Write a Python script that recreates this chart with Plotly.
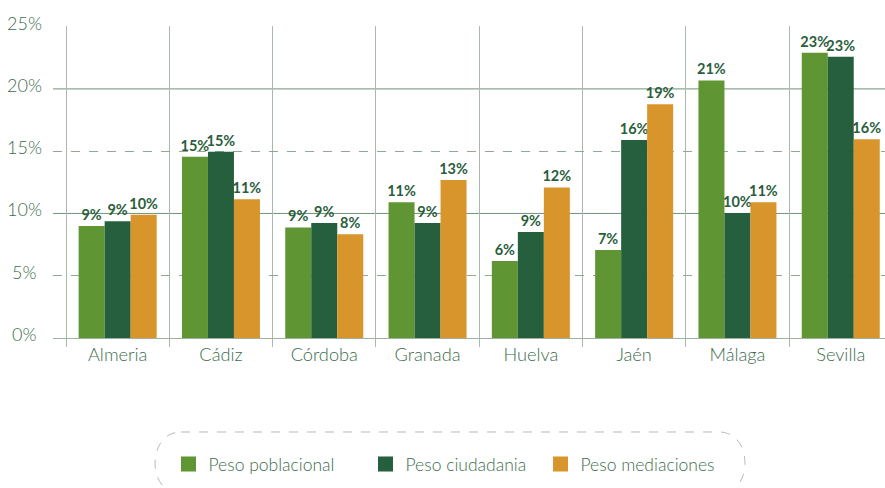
import plotly.graph_objects as go

categories = ["Almeria", "Cádiz", "Córdoba", "Granada", "Huelva", "Jaén", "Málaga", "Sevilla"]
peso_poblacional = [9.0, 14.55, 8.88, 10.89, 6.18, 7.06, 20.68, 22.9]
peso_ciudadania = [9.37, 14.95, 9.23, 9.23, 8.52, 15.9, 10.03, 22.58]
peso_mediaciones = [9.9, 11.13, 8.32, 12.68, 12.09, 18.76, 10.9, 15.95]
series_names = ["Peso poblacional", "Peso ciudadania", "Peso mediaciones"]
series_colors = ["#5f9532", "#255f3d", "#d7952b"]
y_tick_values = [0, 5, 10, 15, 20, 25]
y_tick_labels = ["0%", "5%", "10%", "15%", "20%", "25%"]

W, H = 885, 488
ML, MR, MT, MB = 53, 0, 26, 150
PW = W - ML - MR
PH = H - MT - MB

LABEL_COLOR = "#3c6d4d"
TEXT_COLOR = "#2a5e3c"
FONT = "Lato"

def px_to_paper_x(px):
    return (px - ML) / PW

def py_to_paper_y(py):
    return (H - MB - py) / PH

fig = go.Figure()
legend_ids = ["legend", "legend2", "legend3"]
legend_square_centers = [188.5, 385.5, 560.5]
for name, vals, col in zip(series_names, [peso_poblacional, peso_ciudadania, peso_mediaciones], series_colors):
    fig.add_trace(go.Bar(
        name=name, x=categories, y=vals, marker=dict(color=col, line=dict(width=0)),
        text=[f"{round(v)}%" for v in vals], textposition="outside",
        textfont=dict(family=FONT, size=14.5, color=TEXT_COLOR, weight="bold"),
        constraintext="none", cliponaxis=False, showlegend=False,
    ))
# legend entries (square swatches)
for name, col, lid in zip(series_names, series_colors, legend_ids):
    fig.add_trace(go.Scatter(
        name=name, x=[None], y=[None], mode="markers", legend=lid,
        marker=dict(symbol="square", size=15, color=col, line=dict(width=0)),
        showlegend=True, hoverinfo="skip",
    ))

cat_w = 103.3
left = -0.5 - (66 - ML) / cat_w
right = -0.5 + (W - MR - 66) / cat_w

shapes = []
for yv in [10, 20]:
    shapes.append(dict(type="line", xref="paper", yref="y", x0=0, x1=1, y0=yv, y1=yv,
                       line=dict(color="#6f9376", width=1), layer="below"))

# dashed rounded legend box
L, R, T, B, r = 155, 745, 432, 494, 26
k = 4 * r / 3
pts = lambda x, y: f"{px_to_paper_x(x):.5f},{py_to_paper_y(y):.5f}"
path = (f"M {pts(L + r, T)} L {pts(R - r, T)} "
        f"C {pts(R - r + k, T)} {pts(R - r + k, B)} {pts(R - r, B)} "
        f"L {pts(L + r, B)} "
        f"C {pts(L + r - k, B)} {pts(L + r - k, T)} {pts(L + r, T)} Z")
shapes.append(dict(type="path", xref="paper", yref="paper", path=path,
                   line=dict(color="#b3bdb4", width=1, dash="dash"), layer="below"))

annotations = []
for v, t in zip(y_tick_values, y_tick_labels):
    annotations.append(dict(xref="paper", yref="y", x=px_to_paper_x(24.5), y=v, text=t,
                            showarrow=False, xanchor="center", yanchor="middle", yshift=4,
                            font=dict(family=FONT, size=18, color=LABEL_COLOR, weight=300)))

legend_font = dict(family=FONT, size=17.5, color=LABEL_COLOR, weight=300)
legends = {}
for lid, cx in zip(legend_ids, legend_square_centers):
    legends[lid] = dict(orientation="h", x=px_to_paper_x(cx - 20), xanchor="left",
                        y=py_to_paper_y(464), yanchor="middle", font=legend_font,
                        itemsizing="trace", bgcolor="rgba(0,0,0,0)", borderwidth=0)

fig.update_layout(
    width=W, height=H,
    margin=dict(l=ML, r=MR, t=MT, b=MB, pad=0),
    paper_bgcolor="white", plot_bgcolor="white",
    barmode="group", bargap=0.245, bargroupgap=0,
    showlegend=True,
    xaxis=dict(type="category", range=[left, right], tickson="boundaries",
               showgrid=True, gridcolor="#a9b9ab", gridwidth=1,
               ticks="outside", ticklen=8, tickcolor="#a9b9ab",
               showline=True, linecolor="#9fb2a2", linewidth=1,
               tickfont=dict(family=FONT, size=18.2, color=LABEL_COLOR, weight=300),
               fixedrange=True),
    yaxis=dict(range=[0, 25.05], tickvals=[5, 15, 25], showticklabels=False,
               showgrid=True, gridcolor="#8faa94", gridwidth=1, griddash="dash",
               zeroline=False, showline=False, ticks="", fixedrange=True),
    shapes=shapes, annotations=annotations,
    **legends,
)

fig.write_html("out.html", config={"displayModeBar": False, "staticPlot": True},
               post_script="document.body.style.margin='0';document.body.style.overflow='hidden';")
